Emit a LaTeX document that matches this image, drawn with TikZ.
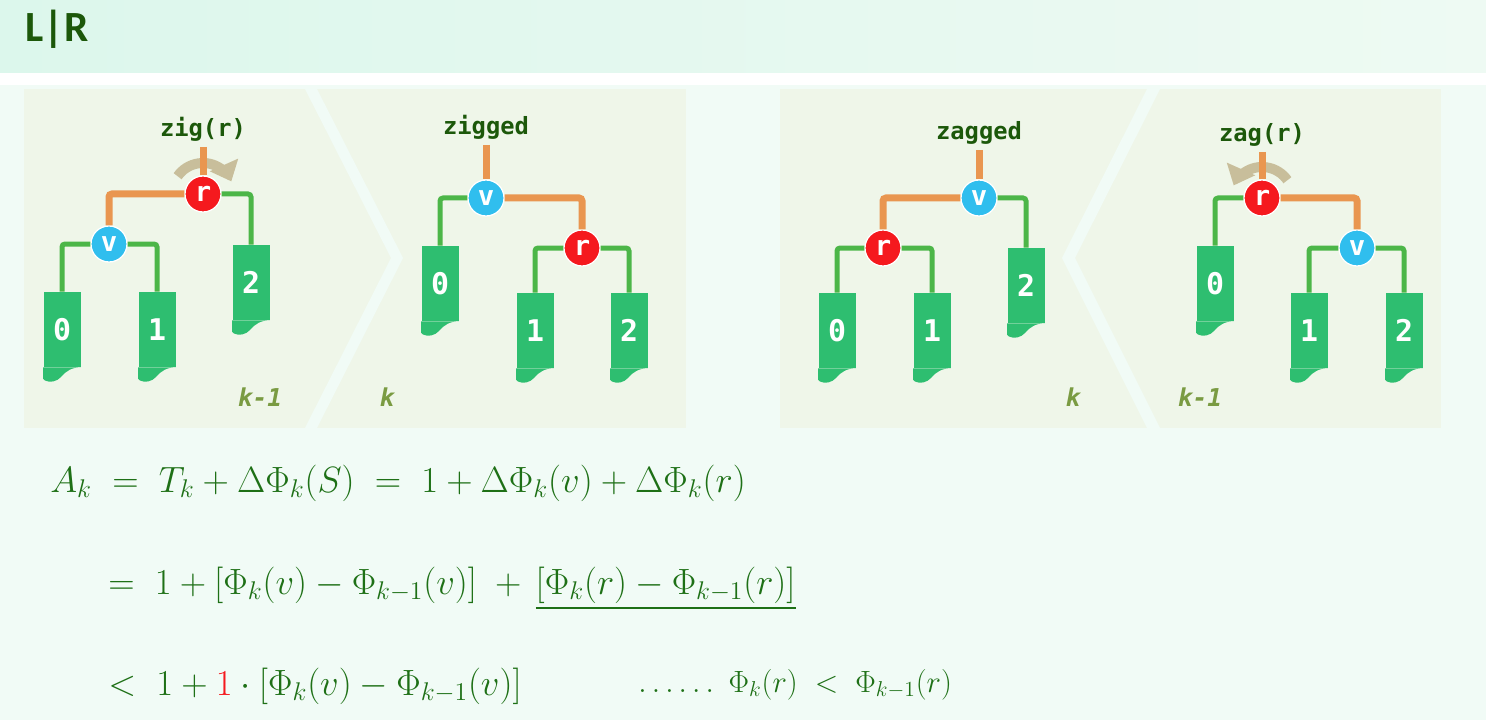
\RequirePackage{fix-cm}
\documentclass[tikz,border=0pt]{standalone}
\usepackage{amsmath}
\usepackage{fontspec}
\usepackage{tikz}
\usetikzlibrary{arrows.meta}
\newfontfamily\titlefont{Carlito}
\newfontfamily\codefont{DejaVu Sans Mono}

\definecolor{titlebgl}{RGB}{220,247,236}
\definecolor{titlebgr}{RGB}{238,250,243}
\definecolor{pagebg}{RGB}{241,251,246}
\definecolor{panelbg}{RGB}{239,246,233}
\definecolor{darkgreen}{RGB}{28,88,10}
\definecolor{edgeorange}{RGB}{233,150,80}
\definecolor{edgegreen}{RGB}{76,182,72}
\definecolor{subgreen}{RGB}{46,190,112}
\definecolor{nodered}{RGB}{245,25,30}
\definecolor{nodeblue}{RGB}{48,190,238}
\definecolor{rottan}{RGB}{200,190,155}
\definecolor{kgreen}{RGB}{122,155,66}
\definecolor{mathgreen}{RGB}{30,112,22}

\tikzset{
  treenode/.style={circle, minimum size=7.2mm, inner sep=0pt, draw=white, line width=0.25mm,
    text=white, font=\codefont\bfseries\fontsize{15.5}{16}\selectfont},
  rnode/.style={treenode, fill=nodered},
  vnode/.style={treenode, fill=nodeblue},
  subtree/.style={rectangle, minimum width=7.4mm, minimum height=15mm, inner sep=0pt,
    fill=subgreen, text=white, font=\codefont\bfseries\fontsize{17}{17}\selectfont},
  oedge/.style={draw=edgeorange, line width=1.4mm, rounded corners=0.6mm},
  gedge/.style={draw=edgegreen, line width=1mm, rounded corners=0.6mm},
  rotarrow/.style={draw=rottan, line width=2mm, -{Triangle[length=3.6mm,width=6mm]}},
  oplab/.style={anchor=base, inner sep=0pt, text=darkgreen,
    font=\codefont\bfseries\fontsize{13.5}{14}\selectfont},
  klab/.style={inner sep=0pt, text=kgreen, font=\codefont\bfseries\itshape\fontsize{14}{14}\selectfont},
  eqn/.style={anchor=base west, inner sep=0pt, text=mathgreen, font=\fontsize{20.8}{24}\selectfont},
}

\begin{document}
\begin{tikzpicture}[x=0.2mm, y=-0.2mm]
  \useasboundingbox (0,0) rectangle (1486,720);
  % backgrounds
  \fill[pagebg] (0,0) rectangle (1486,720);
  \shade[left color=titlebgl, right color=titlebgr] (0,0) rectangle (1486,73);
  \fill[white] (0,73) rectangle (1486,85);
  \fill[panelbg] (24,89) rectangle (686,428);
  \fill[panelbg] (780,89) rectangle (1441,428);
  \fill[pagebg] (305,89) -- (317,89) -- (403,258) -- (317,428) -- (305,428) -- (391,258) -- cycle;
  \fill[pagebg] (1147,89) -- (1160,89) -- (1075,258) -- (1160,428) -- (1147,428) -- (1062,258) -- cycle;

  \node[anchor=base west, inner sep=0pt, text=darkgreen, font=\titlefont\bfseries\fontsize{24.5}{26}\selectfont] (title) at (25,42) {L|R};

  % zig(r), k-1
  \node[oplab] (lab1) at (203,137) {zig(r)};
  \node[rnode] (r1) at (203,194) {r};
  \node[vnode] (v1) at (109,244) {v};
  \node[subtree] (a0) at (62,329.5) {0};
  \node[subtree] (a1) at (157,329.5) {1};
  \node[subtree] (a2) at (251,282.5) {2};
  \node[klab] (k1) at (260,397) {k-1};
  \draw[rotarrow] ([shift={(145:6.2mm)}]r1.center) arc[start angle=145, end angle=24, radius=6.2mm];
  \draw[oedge] ([yshift=-2mm]lab1.base) -- (r1);
  \draw[oedge] (r1) -| (v1);
  \draw[gedge] (r1) -| (a2);
  \draw[gedge] (v1) -| (a0);
  \draw[gedge] (v1) -| (a1);

  % zigged, k
  \node[oplab] (lab2) at (486,135) {zigged};
  \node[vnode] (v2) at (486,198) {v};
  \node[rnode] (r2) at (582,248) {r};
  \node[subtree] (b0) at (440,283.5) {0};
  \node[subtree] (b1) at (535,330.5) {1};
  \node[subtree] (b2) at (629,330.5) {2};
  \node[klab] (k2) at (387,397) {k};
  \draw[oedge] ([yshift=-2mm]lab2.base) -- (v2);
  \draw[oedge] (v2) -| (r2);
  \draw[gedge] (v2) -| (b0);
  \draw[gedge] (r2) -| (b1);
  \draw[gedge] (r2) -| (b2);

  % zagged, k
  \node[oplab] (lab3) at (979,140) {zagged};
  \node[vnode] (v3) at (979,198) {v};
  \node[rnode] (r3) at (883,248) {r};
  \node[subtree] (c0) at (837,330.5) {0};
  \node[subtree] (c1) at (932,330.5) {1};
  \node[subtree] (c2) at (1026,285.5) {2};
  \node[klab] (k3) at (1073,397) {k};
  \draw[oedge] ([yshift=-2mm]lab3.base) -- (v3);
  \draw[oedge] (v3) -| (r3);
  \draw[gedge] (v3) -| (c2);
  \draw[gedge] (r3) -| (c0);
  \draw[gedge] (r3) -| (c1);

  % zag(r), k-1
  \node[oplab] (lab4) at (1262,142) {zag(r)};
  \node[rnode] (r4) at (1262,198) {r};
  \node[vnode] (v4) at (1357,248) {v};
  \node[subtree] (d0) at (1215,283.5) {0};
  \node[subtree] (d1) at (1309,330.5) {1};
  \node[subtree] (d2) at (1404,330.5) {2};
  \node[klab] (k4) at (1200,397) {k-1};
  \draw[rotarrow] ([shift={(35:6.2mm)}]r4.center) arc[start angle=35, end angle=156, radius=6.2mm];
  \draw[oedge] ([yshift=-2mm]lab4.base) -- (r4);
  \draw[oedge] (r4) -| (v4);
  \draw[gedge] (r4) -| (d0);
  \draw[gedge] (v4) -| (d1);
  \draw[gedge] (v4) -| (d2);

  % wavy bottoms of the subtrees
  \foreach \s in {a0,a1,a2,b0,b1,b2,c0,c1,c2,d0,d1,d2}
    \fill[subgreen] (\s.south west) -- ++(0,-2.3mm) -- ++(0.3mm,-0.3mm)
      .. controls +(1.1mm,-0.6mm) and +(-0.8mm,-0.9mm) .. ++(3.3mm,0.7mm)
      .. controls +(1mm,1.2mm) and +(-1.8mm,0) .. (\s.south east) -- cycle;

  % amortized cost
  \node[eqn] (eq1) at (50,492) {$A_k \;=\; T_k + \Delta\Phi_k(S) \;=\; 1 + \Delta\Phi_k(v) + \Delta\Phi_k(r)$};
  \node[eqn] (eq2) at (108,594) {$=\; 1 + [\Phi_k(v) - \Phi_{k-1}(v)] \;+\, \underline{[\Phi_k(r) - \Phi_{k-1}(r)]}$};
  \node[eqn] (eq3) at (108,695) {$<\; 1 + {\color{nodered}1}\cdot[\Phi_k(v) - \Phi_{k-1}(v)]$};
  \node[eqn, font=\fontsize{17.5}{20}\selectfont] (eq4) at (638,692) {$\ldots\ldots\ \Phi_k(r) \;<\; \Phi_{k-1}(r)$};
\end{tikzpicture}
\end{document}
